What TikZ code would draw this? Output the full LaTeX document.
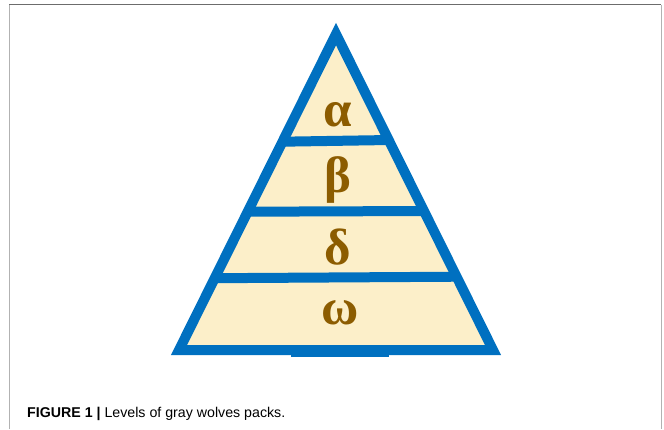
\documentclass[tikz,border=0pt]{standalone}
\usepackage{fontspec}
\setmainfont{Liberation Serif}
\newfontfamily\capfont{Liberation Sans}
\definecolor{tblue}{RGB}{0,112,192}
\definecolor{tfill}{RGB}{252,239,201}
\definecolor{tbrown}{RGB}{140,92,0}
\tikzset{
  edge/.style={draw=tblue, line width=10pt, line join=miter},
  lvl/.style={tbrown, font=\fontsize{51}{51}\selectfont\bfseries, inner sep=0pt},
  frameline/.style={draw=gray!60, line width=1pt},
}
\begin{document}
\begin{tikzpicture}[x=1pt,y=-1pt]
\useasboundingbox (0,0) rectangle (664,429);
% frame
\coordinate (fbl) at (9,429);
\coordinate (ftl) at (9,4.5);
\coordinate (ftr) at (661,4.5);
\coordinate (fbr) at (661,429);
\draw[frameline] (fbl) -- (ftl);
\draw[frameline] (ftr) -- (fbr);
\draw[draw=gray!85!black, line width=1pt] (ftl) -- (ftr);
% triangle
\coordinate (apex) at (336,34);
\coordinate (bl) at (179,350);
\coordinate (br) at (493,350);
\fill[tfill] (apex) -- (bl) -- (br) -- cycle;
% level lines
\coordinate (l1a) at (282,141.7);
\coordinate (l1b) at (390,140);
\coordinate (l2a) at (247,211.7);
\coordinate (l2b) at (425,211);
\coordinate (l3a) at (214,278.2);
\coordinate (l3b) at (458,276.7);
\draw[edge] (l1a) -- (l1b);
\draw[edge] (l2a) -- (l2b);
\draw[edge] (l3a) -- (l3b);
\draw[edge] (apex) -- (bl) -- (br) -- cycle;
\coordinate (bm1) at (291,351);
\coordinate (bm2) at (389,351);
\draw[draw=tblue, line width=12pt] (bm1) -- (bm2);
% labels
\node[lvl] (alpha) at (338,114.5) {α};
\node[lvl] (beta) at (338,180) {β};
\node[lvl] (delta) at (337.5,247) {δ};
\node[lvl] (omega) at (340,312.5) {ω};
% caption
\node[anchor=base west, inner sep=0pt, font=\capfont\fontsize{14.2}{15}\selectfont] (cap) at (27,417) {\textbf{FIGURE 1 |} Levels of gray wolves packs.};
\end{tikzpicture}
\end{document}
